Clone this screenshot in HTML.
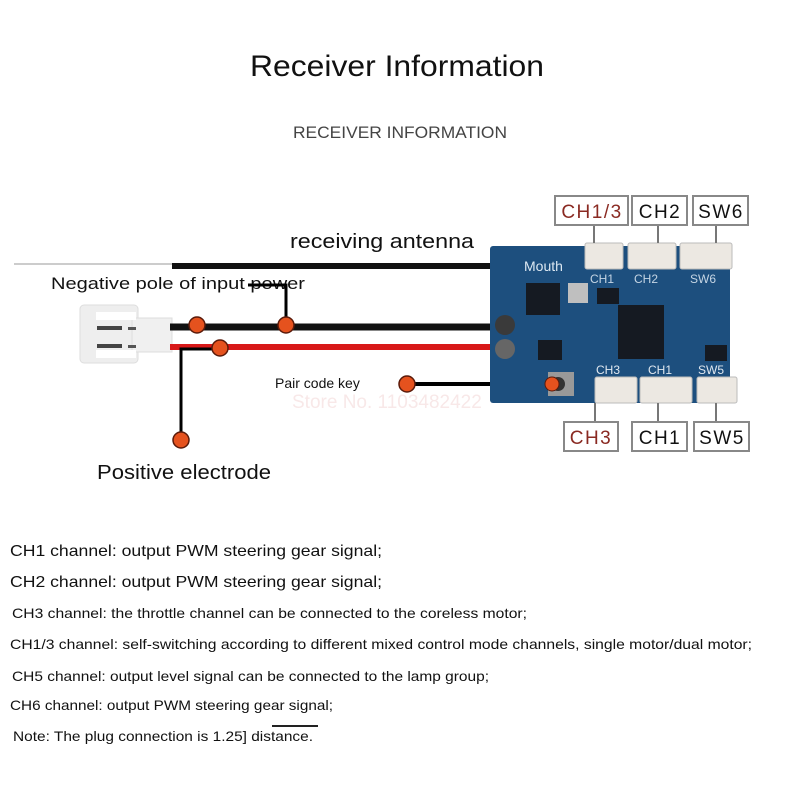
<!DOCTYPE html>
<html><head><meta charset="utf-8"><style>
body{margin:0;width:800px;height:800px;background:#fff;overflow:hidden;font-family:"Liberation Sans",sans-serif}
</style></head><body>
<svg width="800" height="800" xmlns="http://www.w3.org/2000/svg" font-family="Liberation Sans, sans-serif">
<text x="250" y="76" font-size="30" textLength="294" lengthAdjust="spacingAndGlyphs" fill="#111">Receiver Information</text>
<text x="293" y="138" font-size="17" textLength="214" lengthAdjust="spacingAndGlyphs" fill="#444">RECEIVER INFORMATION</text>

<!-- antenna -->
<line x1="14" y1="264" x2="172" y2="264" stroke="#ccc" stroke-width="2"/>
<line x1="172" y1="266" x2="500" y2="266" stroke="#111" stroke-width="6"/>
<text x="290" y="248" font-size="20" textLength="184" lengthAdjust="spacingAndGlyphs" fill="#111">receiving antenna</text>
<text x="51" y="289" font-size="17" textLength="254" lengthAdjust="spacingAndGlyphs" fill="#111">Negative pole of input power</text>

<!-- connector -->
<rect x="80" y="305" width="58" height="58" rx="4" fill="#eee" stroke="#ddd"/>
<rect x="132" y="318" width="40" height="34" fill="#f0f0f0" stroke="#ddd"/>
<rect x="96" y="312" width="40" height="8" fill="#fff"/>
<rect x="96" y="350" width="40" height="8" fill="#fff"/>
<rect x="97" y="326" width="25" height="4" fill="#444"/>
<rect x="97" y="344" width="25" height="4" fill="#444"/>
<rect x="128" y="327" width="8" height="3" fill="#555"/>
<rect x="128" y="345" width="8" height="3" fill="#555"/>

<!-- wires -->
<line x1="170" y1="327" x2="500" y2="327" stroke="#111" stroke-width="7"/>
<line x1="170" y1="347" x2="500" y2="347" stroke="#d81818" stroke-width="6"/>
<polyline points="248,285 286,285 286,323" fill="none" stroke="#000" stroke-width="3"/>
<polyline points="220,349 181,349 181,438" fill="none" stroke="#000" stroke-width="3"/>
<line x1="407" y1="384" x2="555" y2="384" stroke="#000" stroke-width="4"/>

<g fill="#e5521e" stroke="#5a1a0a" stroke-width="1.5">
<circle cx="197" cy="325" r="8"/><circle cx="286" cy="325" r="8"/>
<circle cx="220" cy="348" r="8"/><circle cx="181" cy="440" r="8"/>
<circle cx="407" cy="384" r="8"/>
</g>
<text x="275" y="388" font-size="14" fill="#111">Pair code key</text>
<text x="292" y="408" font-size="19" fill="#f8e8e8">Store No. 1103482422</text>
<text x="97" y="479" font-size="20" textLength="174" lengthAdjust="spacingAndGlyphs" fill="#111">Positive electrode</text>

<!-- board -->
<rect x="490" y="246" width="240" height="157" rx="3" fill="#1d4f7e"/>
<text x="524" y="271" font-size="14" fill="#dce8f2">Mouth</text>
<rect x="526" y="283" width="34" height="32" fill="#151a22"/>
<rect x="568" y="283" width="20" height="20" fill="#bfbfbf"/>
<rect x="618" y="305" width="46" height="54" fill="#151a22"/>
<rect x="597" y="288" width="22" height="16" fill="#151a22"/>
<rect x="538" y="340" width="24" height="20" fill="#151a22"/>
<rect x="705" y="345" width="22" height="16" fill="#151a22"/>
<circle cx="505" cy="325" r="10" fill="#3a3a3a"/>
<circle cx="505" cy="349" r="10" fill="#666"/>
<rect x="548" y="372" width="26" height="24" fill="#999"/>
<circle cx="558" cy="384" r="7" fill="#333"/>
<circle cx="552" cy="384" r="7" fill="#e5521e" stroke="#5a1a0a"/>
<g font-size="12" fill="#c5d5e4">
<text x="590" y="283">CH1</text><text x="634" y="283">CH2</text><text x="690" y="283">SW6</text>
<text x="596" y="374" fill="#e0e8f0">CH3</text><text x="648" y="374" fill="#e0e8f0">CH1</text><text x="698" y="374" fill="#e0e8f0">SW5</text>
</g>

<!-- board connectors -->
<g fill="#ece8e2" stroke="#bbb">
<rect x="585" y="243" width="38" height="26" rx="2"/>
<rect x="628" y="243" width="48" height="26" rx="2"/>
<rect x="680" y="243" width="52" height="26" rx="2"/>
<rect x="595" y="377" width="42" height="26" rx="2"/>
<rect x="640" y="377" width="52" height="26" rx="2"/>
<rect x="697" y="377" width="40" height="26" rx="2"/>
</g>

<!-- label lines -->
<g stroke="#777" stroke-width="2">
<line x1="594" y1="225" x2="594" y2="243"/><line x1="658" y1="225" x2="658" y2="243"/><line x1="716" y1="225" x2="716" y2="243"/>
<line x1="595" y1="403" x2="595" y2="421"/><line x1="658" y1="403" x2="658" y2="421"/><line x1="716" y1="403" x2="716" y2="421"/>
</g>
<g fill="#fff" stroke="#888" stroke-width="2">
<rect x="555" y="196" width="73" height="29"/><rect x="632" y="196" width="55" height="29"/><rect x="693" y="196" width="55" height="29"/>
<rect x="564" y="422" width="54" height="29"/><rect x="632" y="422" width="55" height="29"/><rect x="694" y="422" width="55" height="29"/>
</g>
<g font-size="19" text-anchor="middle" letter-spacing="1.5">
<text x="592" y="218" fill="#8a2a22">CH1/3</text><text x="660" y="218" fill="#111">CH2</text><text x="721" y="218" fill="#111">SW6</text>
<text x="591" y="444" fill="#8a2a22">CH3</text><text x="660" y="444" fill="#111">CH1</text><text x="722" y="444" fill="#111">SW5</text>
</g>

<!-- notes -->
<g fill="#111" lengthAdjust="spacingAndGlyphs">
<text x="10" y="556" font-size="16" textLength="372" lengthAdjust="spacingAndGlyphs">CH1 channel: output PWM steering gear signal;</text>
<text x="10" y="587" font-size="16" textLength="372" lengthAdjust="spacingAndGlyphs">CH2 channel: output PWM steering gear signal;</text>
<text x="12" y="618" font-size="14" textLength="515" lengthAdjust="spacingAndGlyphs">CH3 channel: the throttle channel can be connected to the coreless motor;</text>
<text x="10" y="649" font-size="14" textLength="742" lengthAdjust="spacingAndGlyphs">CH1/3 channel: self-switching according to different mixed control mode channels, single motor/dual motor;</text>
<text x="12" y="681" font-size="14" textLength="477" lengthAdjust="spacingAndGlyphs">CH5 channel: output level signal can be connected to the lamp group;</text>
<text x="10" y="710" font-size="14" textLength="323" lengthAdjust="spacingAndGlyphs">CH6 channel: output PWM steering gear signal;</text>
<text x="13" y="741" font-size="14" textLength="300" lengthAdjust="spacingAndGlyphs">Note: The plug connection is 1.25] distance.</text>
</g>
<line x1="272" y1="726" x2="318" y2="726" stroke="#222" stroke-width="2"/>
</svg>
</body></html>
